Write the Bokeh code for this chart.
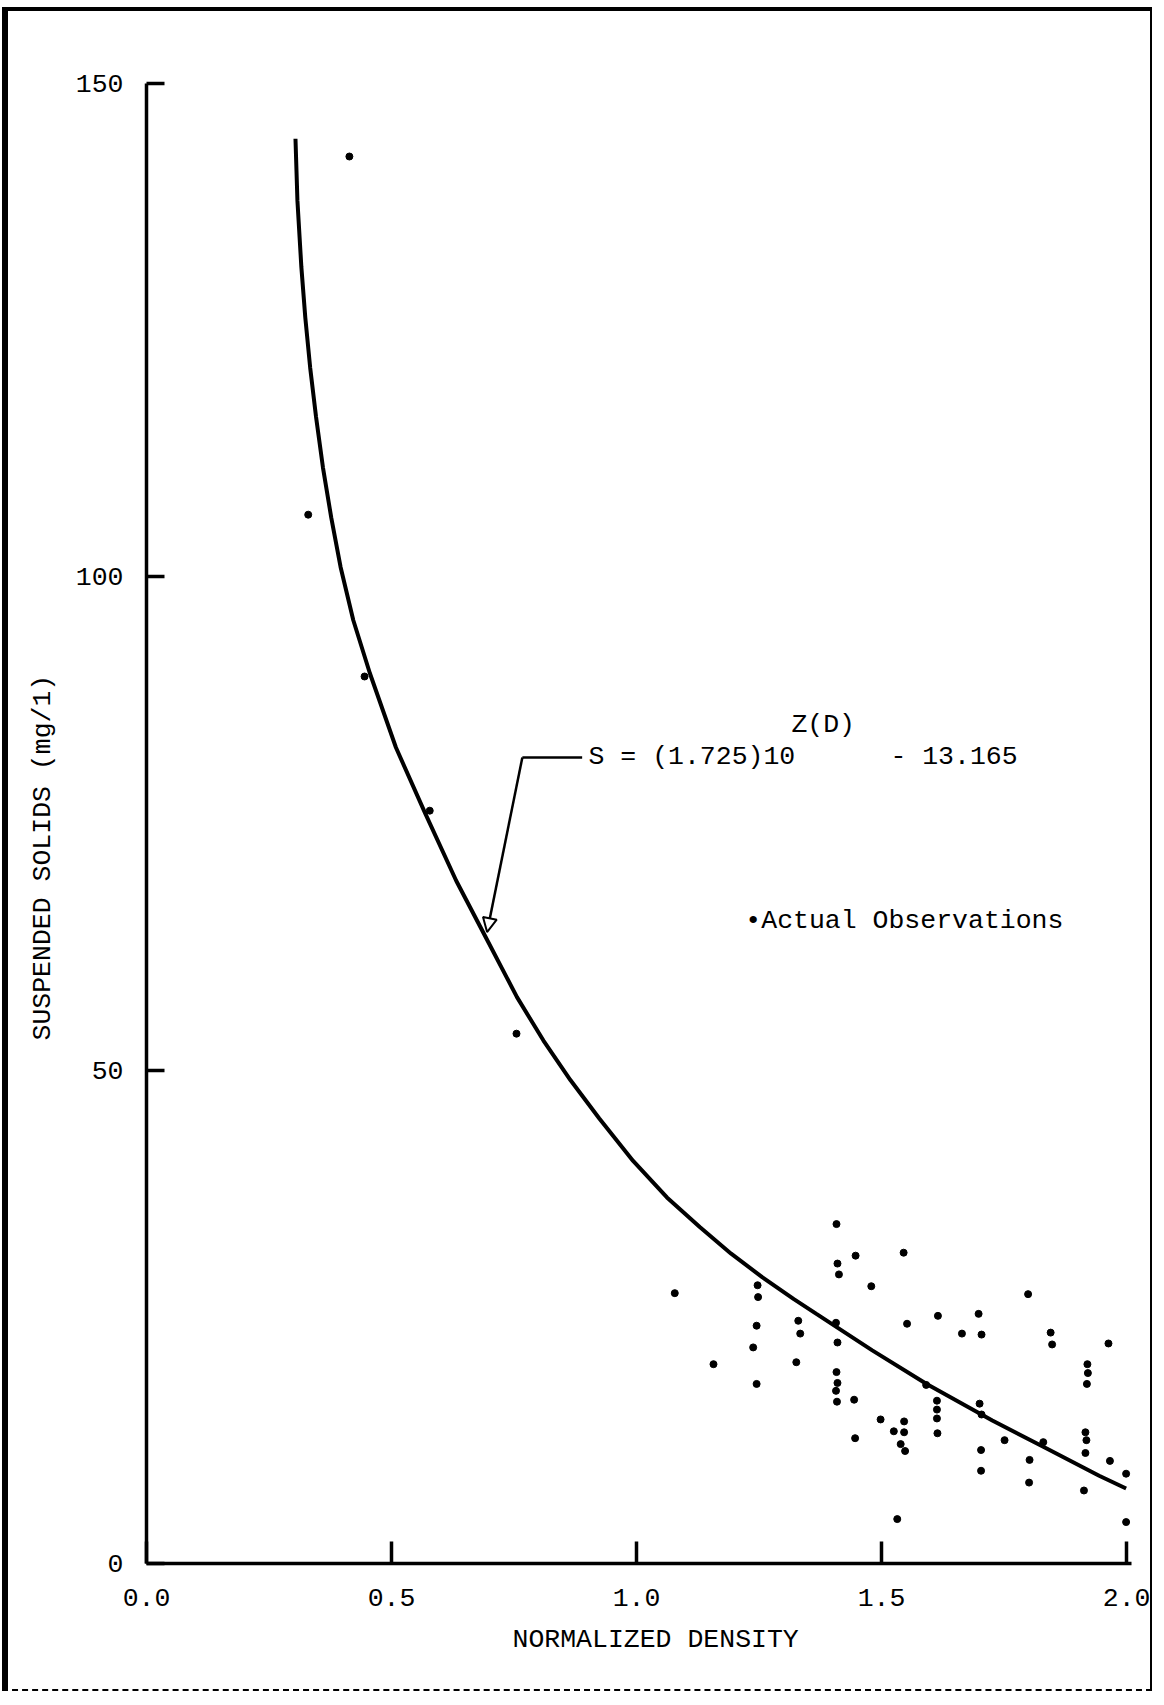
from bokeh.plotting import figure
from bokeh.models import Range1d, FixedTicker, Label, Arrow, NormalHead, Title
from bokeh.embed import file_html
from bokeh.resources import INLINE

# ---- data ----
x_ticks = [0.0, 0.5, 1.0, 1.5, 2.0]
x_tick_labels = ["0.0", "0.5", "1.0", "1.5", "2.0"]
y_ticks = [0, 50, 100, 150]
y_tick_labels = ["0", "50", "100", "150"]

# fitted curve S = (1.725)10^Z(D) - 13.165
curve_x = [0.304, 0.308, 0.316, 0.324, 0.334, 0.346, 0.360, 0.377, 0.396, 0.422,
           0.456, 0.509, 0.569, 0.632, 0.692, 0.756, 0.810, 0.865, 0.924, 0.993,
           1.062, 1.129, 1.193, 1.257, 1.321, 1.367, 1.481, 1.592, 1.726, 1.831,
           1.944, 1.999]
curve_y = [144.4, 138.1, 131.4, 126.3, 121.2, 116.2, 111.1, 106.0, 101.0, 95.6,
           90.2, 82.7, 76.0, 69.2, 63.5, 57.4, 53.0, 49.0, 45.1, 40.8,
           37.1, 34.1, 31.4, 29.0, 26.8, 25.3, 21.6, 18.2, 14.5, 11.8,
           8.9, 7.6]

# actual observations
obs_x = [0.414, 0.330, 0.445, 0.578, 0.755,
         1.078, 1.408, 1.447, 1.545, 1.410, 1.413, 1.479, 1.247, 1.248, 1.799,
         1.615, 1.698, 1.552, 1.664, 1.704, 1.845, 1.848, 1.963, 1.330, 1.334,
         1.245, 1.238, 1.157, 1.326, 1.245, 1.407, 1.410, 1.408, 1.410, 1.407,
         1.409, 1.444, 1.920, 1.921, 1.919, 1.591, 1.613, 1.613, 1.613, 1.700,
         1.704, 1.446, 1.498, 1.525, 1.546, 1.546, 1.539, 1.548, 1.532, 1.614,
         1.703, 1.703, 1.751, 1.802, 1.801, 1.830, 1.916, 1.918, 1.916, 1.966,
         1.913, 1.999, 1.999]
obs_y = [142.6, 106.3, 89.9, 76.3, 53.7,
         27.4, 34.4, 31.2, 31.5, 30.4, 29.3, 28.1, 28.2, 27.0, 27.3,
         25.1, 25.3, 24.3, 23.3, 23.2, 23.4, 22.2, 22.3, 24.6, 23.3,
         24.1, 21.9, 20.2, 20.4, 18.2, 24.4, 22.4, 19.4, 18.3, 17.5,
         16.4, 16.6, 20.2, 19.3, 18.2, 18.1, 16.5, 15.6, 14.7, 16.2,
         15.1, 12.7, 14.6, 13.4, 14.4, 13.3, 12.1, 11.4, 4.5, 13.2,
         11.5, 9.4, 12.5, 10.5, 8.2, 12.3, 13.3, 12.5, 11.2, 10.4,
         7.4, 9.1, 4.2]

FONT = "Liberation Mono"
FS = "26.5px"

p = figure(width=1150, height=1684,
           x_range=Range1d(0, 2.01), y_range=Range1d(0, 150),
           output_backend="svg", toolbar_location=None,
           min_border_left=138, min_border_right=27,
           min_border_top=72, min_border_bottom=132)
p.styles = {"border-left": "6px solid black", "border-top": "4px solid black",
            "border-right": "2px solid black", "border-bottom": "2px dashed black",
            "margin-left": "2px", "margin-top": "7px"}
p.grid.visible = False
p.outline_line_color = None

for ax in (p.xaxis[0], p.yaxis[0]):
    ax.axis_line_width = 3.5
    ax.major_tick_line_width = 3.5
    ax.major_tick_out = 0
    ax.minor_tick_line_color = None
    ax.major_label_text_font = FONT
    ax.major_label_text_font_size = FS
    ax.major_label_text_color = "black"

p.xaxis.ticker = FixedTicker(ticks=x_ticks)
p.xaxis.major_label_overrides = dict(zip(x_ticks, x_tick_labels))
p.xaxis.major_tick_in = 22
p.xaxis.major_label_standoff = 25

p.yaxis.ticker = FixedTicker(ticks=y_ticks)
p.yaxis.major_label_overrides = dict(zip(y_ticks, y_tick_labels))
p.yaxis.major_tick_in = 18
p.yaxis.major_label_standoff = 23

xt = Title(text="NORMALIZED DENSITY", align="left", offset=366,
           text_font=FONT, text_font_size=FS, text_font_style="normal",
           text_color="black", standoff=28)
p.add_layout(xt, "below")
yt = Title(text="SUSPENDED SOLIDS (mg/1)", align="left", offset=523,
           text_font=FONT, text_font_size=FS, text_font_style="normal",
           text_color="black", standoff=29)
p.add_layout(yt, "left")

# curve and observations
p.line(curve_x, curve_y, line_color="black", line_width=4)
p.scatter(obs_x, obs_y, size=7, color="black")

# equation annotation with leader arrow
p.line([0.889, 0.767], [81.7, 81.7], line_color="black", line_width=2.5)
p.add_layout(Arrow(x_start=0.767, y_start=81.7, x_end=0.695, y_end=64.0,
                   line_color="black", line_width=2.5,
                   end=NormalHead(size=14, fill_color="white", line_color="black", line_width=2)))
lab_kw = dict(text_font=FONT, text_font_size=FS, text_color="black", text_baseline="middle")
p.add_layout(Label(x=0.902, y=81.7, text="S = (1.725)10", **lab_kw))
p.add_layout(Label(x=1.316, y=85.0, text="Z(D)", **lab_kw))
p.add_layout(Label(x=1.518, y=81.7, text="- 13.165", **lab_kw))
p.add_layout(Label(x=1.222, y=65.1, text="\u2022Actual Observations", **lab_kw))

open("out.html", "w").write(file_html(p, INLINE))
